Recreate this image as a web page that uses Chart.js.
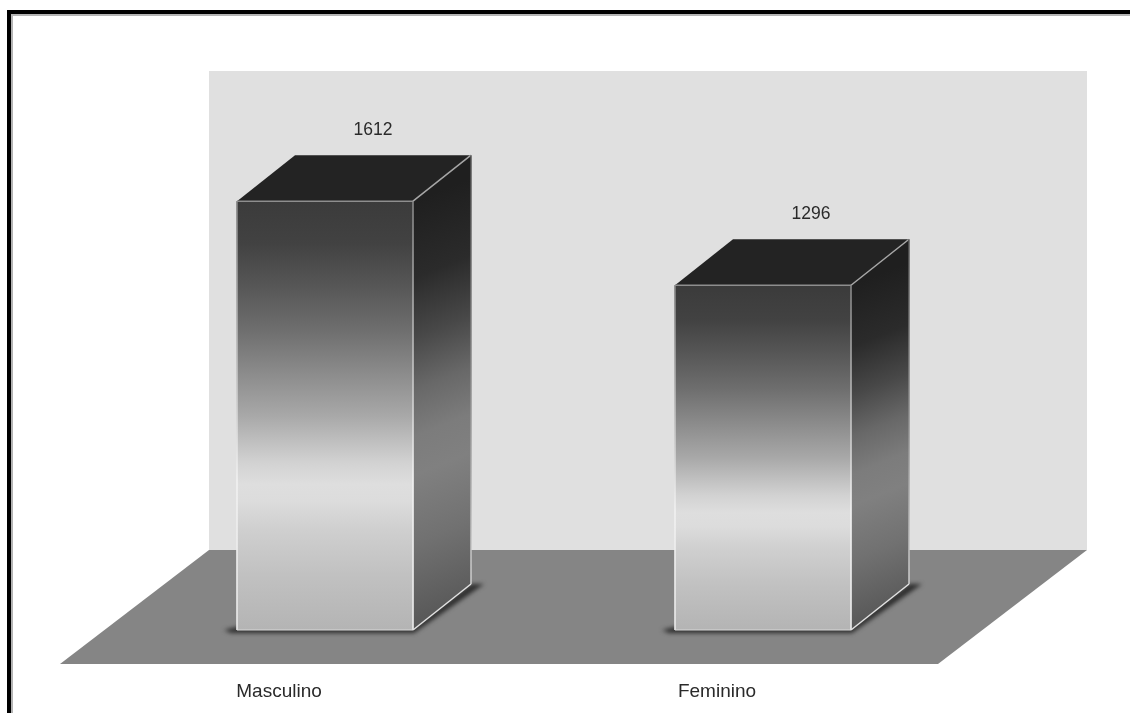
<!DOCTYPE html>
<html lang="pt">
<head>
<meta charset="utf-8">
<title>Masculino e Feminino</title>
<script src="https://cdn.jsdelivr.net/npm/chart.js@4"></script>
<style>
  html, body { margin: 0; padding: 0; background: #fff; }
  canvas { display: block; }
</style>
</head>
<body>
<canvas id="chart" width="1130" height="713"></canvas>
<script>
const categories = ['Masculino', 'Feminino'];
const totals = [1612, 1296];

const FONT = '"Liberation Sans", Arial, sans-serif';
const TEXT_COLOR = '#2a2a2a';
// Box depth of each column, in pixels along the receding edge.
const DEPTH_X = 58;
const DEPTH_Y = 46;
// Slant of the shading bands on a column's side, flatter than its receding edge.
const SIDE_BAND_SLOPE = 0.4;

const FRONT_STOPS = [
  [0, '#3b3b3b'], [0.1, '#424242'], [0.2, '#575757'], [0.3, '#6e6e6e'],
  [0.4, '#8b8b8b'], [0.5, '#a8a8a8'], [0.56, '#bfbfbf'], [0.61, '#d2d2d2'],
  [0.66, '#dedede'], [0.7, '#dcdcdc'], [0.76, '#d0d0d0'], [0.87, '#c1c1c1'], [1, '#b4b4b4']
];
const SIDE_STOPS = [
  [0, '#1f1f1f'], [0.18, '#2b2b2b'], [0.32, '#484848'], [0.44, '#686868'],
  [0.55, '#7c7c7c'], [0.64, '#808080'], [0.8, '#717171'], [1, '#575757']
];

function verticalGradient(ctx, top, bottom, stops) {
  const g = ctx.createLinearGradient(0, top, 0, bottom);
  stops.forEach(([at, color]) => g.addColorStop(at, color));
  return g;
}

function tracePolygon(ctx, points) {
  ctx.beginPath();
  points.forEach(([x, y], i) => (i ? ctx.lineTo(x, y) : ctx.moveTo(x, y)));
  ctx.closePath();
}

function polygon(ctx, points, fill) {
  tracePolygon(ctx, points);
  ctx.fillStyle = fill;
  ctx.fill();
}

function edge(ctx, x1, y1, x2, y2, color, width) {
  ctx.beginPath();
  ctx.moveTo(x1, y1);
  ctx.lineTo(x2, y2);
  ctx.strokeStyle = color;
  ctx.lineWidth = width;
  ctx.stroke();
}

// Page frame, back wall and floor go under the axes; each column's side and top go under its front.
const scene3d = {
  id: 'scene3d',
  beforeDraw(chart) {
    const ctx = chart.ctx;
    ctx.save();
    ctx.fillStyle = '#b4b4b4';
    ctx.fillRect(11, 14, 1119, 2);
    ctx.fillRect(11, 14, 2, 699);
    ctx.fillStyle = '#000000';
    ctx.fillRect(7, 10, 1123, 4);
    ctx.fillRect(7, 10, 4, 703);

    ctx.fillStyle = '#e0e0e0';
    ctx.fillRect(209, 71, 878, 479);
    polygon(ctx, [[209, 550], [1087, 550], [938, 664], [60, 664]], '#858585');
    ctx.restore();
  },
  beforeDatasetsDraw(chart) {
    const ctx = chart.ctx;
    ctx.save();
    chart.getDatasetMeta(0).data.forEach(bar => {
      const left = bar.x - bar.width / 2;
      const right = bar.x + bar.width / 2;
      const top = bar.y;
      const base = bar.base;

      // Soft contact shadow along the foot of the column.
      ctx.save();
      ctx.filter = 'blur(2px)';
      polygon(ctx, [
        [left - 13, base], [left, base - 3], [right, base - 3],
        [right + DEPTH_X, base - DEPTH_Y], [right + DEPTH_X + 13, base - DEPTH_Y],
        [right + 1, base + 3], [left - 6, base + 3]
      ], '#2e2e2e');
      ctx.restore();

      // Right side: clipped to its parallelogram, with slanted shading bands.
      ctx.save();
      tracePolygon(ctx, [
        [right, top], [right + DEPTH_X, top - DEPTH_Y],
        [right + DEPTH_X, base - DEPTH_Y], [right, base]
      ]);
      ctx.clip();
      ctx.translate(right, 0);
      ctx.transform(1, -SIDE_BAND_SLOPE, 0, 1, 0, 0);
      ctx.fillStyle = verticalGradient(ctx, top, base, SIDE_STOPS);
      ctx.fillRect(0, top - DEPTH_Y, DEPTH_X, base - top + 2 * DEPTH_Y);
      ctx.restore();

      polygon(ctx, [
        [left, top], [right, top],
        [right + DEPTH_X, top - DEPTH_Y], [left + DEPTH_X, top - DEPTH_Y]
      ], '#232323');
    });
    ctx.restore();
  },
  afterDatasetsDraw(chart) {
    const ctx = chart.ctx;
    const values = chart.data.datasets[0].data;
    ctx.save();
    chart.getDatasetMeta(0).data.forEach((bar, i) => {
      const left = bar.x - bar.width / 2;
      const right = bar.x + bar.width / 2;
      const top = bar.y;
      const base = bar.base;
      const light = verticalGradient(ctx, top, base, [[0, '#8a8a8a'], [0.45, '#d0d0d0'], [0.65, '#f2f2f2'], [1, '#ededed']]);

      edge(ctx, left, top, left, base, light, 1.5);
      edge(ctx, right, top, right, base, light, 1.5);
      edge(ctx, left, top, right, top, '#8e8e8e', 1.5);
      edge(ctx, left, base, right, base, '#d8d8d8', 1);
      edge(ctx, right, top, right + DEPTH_X, top - DEPTH_Y, '#a6a6a6', 1.5);
      edge(ctx, right, base, right + DEPTH_X, base - DEPTH_Y, '#e2e2e2', 1.5);
      edge(ctx, right + DEPTH_X, top - DEPTH_Y, right + DEPTH_X, base - DEPTH_Y,
        verticalGradient(ctx, top - DEPTH_Y, base - DEPTH_Y, [[0, '#555555'], [0.5, '#8a8a8a'], [1, '#d0d0d0']]), 1.5);

      ctx.fillStyle = TEXT_COLOR;
      ctx.font = '17.5px ' + FONT;
      ctx.textAlign = 'center';
      ctx.textBaseline = 'middle';
      ctx.fillText(String(values[i]), bar.x + 48, top - 71);
    });
    ctx.restore();
  }
};

new Chart(document.getElementById('chart'), {
  type: 'bar',
  data: {
    labels: categories,
    datasets: [{
      data: totals,
      barThickness: 176,
      borderWidth: 0,
      backgroundColor(context) {
        const { chart, parsed } = context;
        if (!chart.chartArea || !parsed) return '#808080';
        const y = chart.scales.y;
        return verticalGradient(chart.ctx, y.getPixelForValue(parsed.y), y.getPixelForValue(0), FRONT_STOPS);
      }
    }]
  },
  options: {
    responsive: false,
    animation: false,
    layout: { padding: { left: 106, right: 148, top: 98, bottom: 0 } },
    plugins: { legend: { display: false }, title: { display: false }, tooltip: { enabled: false } },
    scales: {
      x: {
        grid: { display: false },
        border: { display: false },
        afterFit(scale) { scale.height = 83; },
        ticks: {
          padding: 42,
          labelOffset: -46,
          maxRotation: 0,
          color: TEXT_COLOR,
          font: { family: FONT, size: 19 }
        }
      },
      y: { display: false, min: 0, max: 2000 }
    }
  },
  plugins: [scene3d]
});
</script>
</body>
</html>
